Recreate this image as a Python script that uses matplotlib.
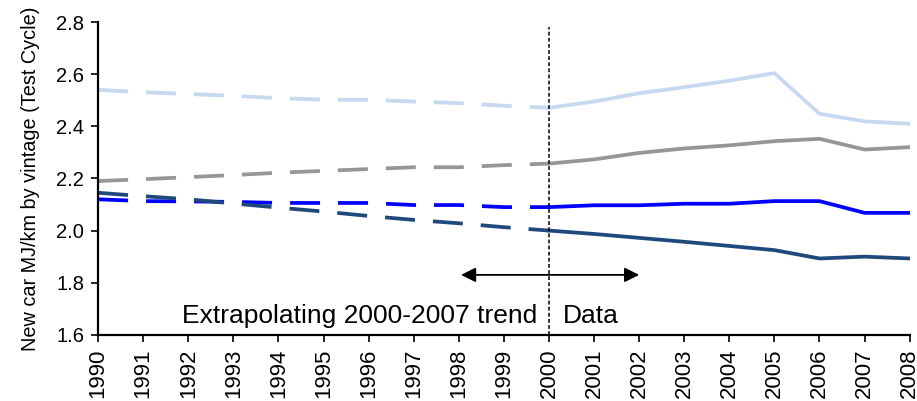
import numpy as np
import matplotlib
matplotlib.use("Agg")
import matplotlib.pyplot as plt

plt.rcParams['font.family'] = ['Liberation Sans', 'DejaVu Sans']

years = np.arange(1990, 2009)

# MJ/km by vintage, 1990-1999 extrapolated, 2000-2008 data
light_blue = [2.540, 2.531, 2.524, 2.517, 2.508, 2.502, 2.502, 2.495, 2.489, 2.479,
              2.471, 2.495, 2.527, 2.550, 2.575, 2.604, 2.448, 2.419, 2.410]
grey = [2.190, 2.197, 2.205, 2.213, 2.222, 2.229, 2.236, 2.243, 2.243, 2.251,
        2.257, 2.273, 2.298, 2.315, 2.327, 2.343, 2.352, 2.311, 2.320]
blue = [2.120, 2.113, 2.112, 2.110, 2.106, 2.106, 2.106, 2.098, 2.098, 2.090,
        2.090, 2.097, 2.097, 2.103, 2.103, 2.113, 2.113, 2.068, 2.068]
navy = [2.145, 2.132, 2.120, 2.104, 2.088, 2.073, 2.056, 2.041, 2.028, 2.013,
        2.000, 1.987, 1.972, 1.957, 1.941, 1.925, 1.893, 1.900, 1.893]

series = [(light_blue, '#c6d9f1'), (grey, '#969696'), (blue, '#0000ff'), (navy, '#1f497d')]
split = 2000

fig = plt.figure(figsize=(9.17, 4.01), dpi=100)
ax = fig.add_axes([0.107, 0.165, 0.885, 0.78])

ext = years <= split
dat = years >= split
for vals, col in series:
    vals = np.array(vals)
    ax.plot(years[ext], vals[ext], color=col, lw=2.7, dashes=(8, 4.8), solid_capstyle='butt')
    ax.plot(years[dat], vals[dat], color=col, lw=2.7, solid_joinstyle='round')

ax.axvline(split, ymin=0, ymax=0.985, color='black', lw=1.1, linestyle=(0, (2.5, 1.5)))

ax.annotate('', xy=(1998.05, 1.83), xytext=(2002.0, 1.83),
            arrowprops=dict(arrowstyle='<|-|>', color='black', lw=1.3,
                            mutation_scale=22, shrinkA=0, shrinkB=0))
ax.text(1999.73, 1.672, 'Extrapolating 2000-2007 trend', ha='right', va='center', fontsize=19)
ax.text(2000.31, 1.672, 'Data', ha='left', va='center', fontsize=19)

ax.set_xlim(1990, 2008)
ax.set_ylim(1.6, 2.8)
ax.set_xticks(years)
ax.set_xticklabels([str(y) for y in years], rotation=90, fontsize=16)
ax.set_yticks(np.arange(1.6, 2.81, 0.2))
ax.set_yticklabels(['%.1f' % v for v in np.arange(1.6, 2.81, 0.2)], fontsize=14.5)
ax.tick_params(direction='out', length=5, width=1.2)
ax.tick_params(axis='x', pad=5)
ax.tick_params(axis='y', pad=5)
ax.set_ylabel('New car MJ/km by vintage (Test Cycle)', fontsize=14.3, labelpad=12)

for s in ['top', 'right']:
    ax.spines[s].set_visible(False)
for s in ['left', 'bottom']:
    ax.spines[s].set_linewidth(1.6)

fig.savefig('out.png', dpi=100)
